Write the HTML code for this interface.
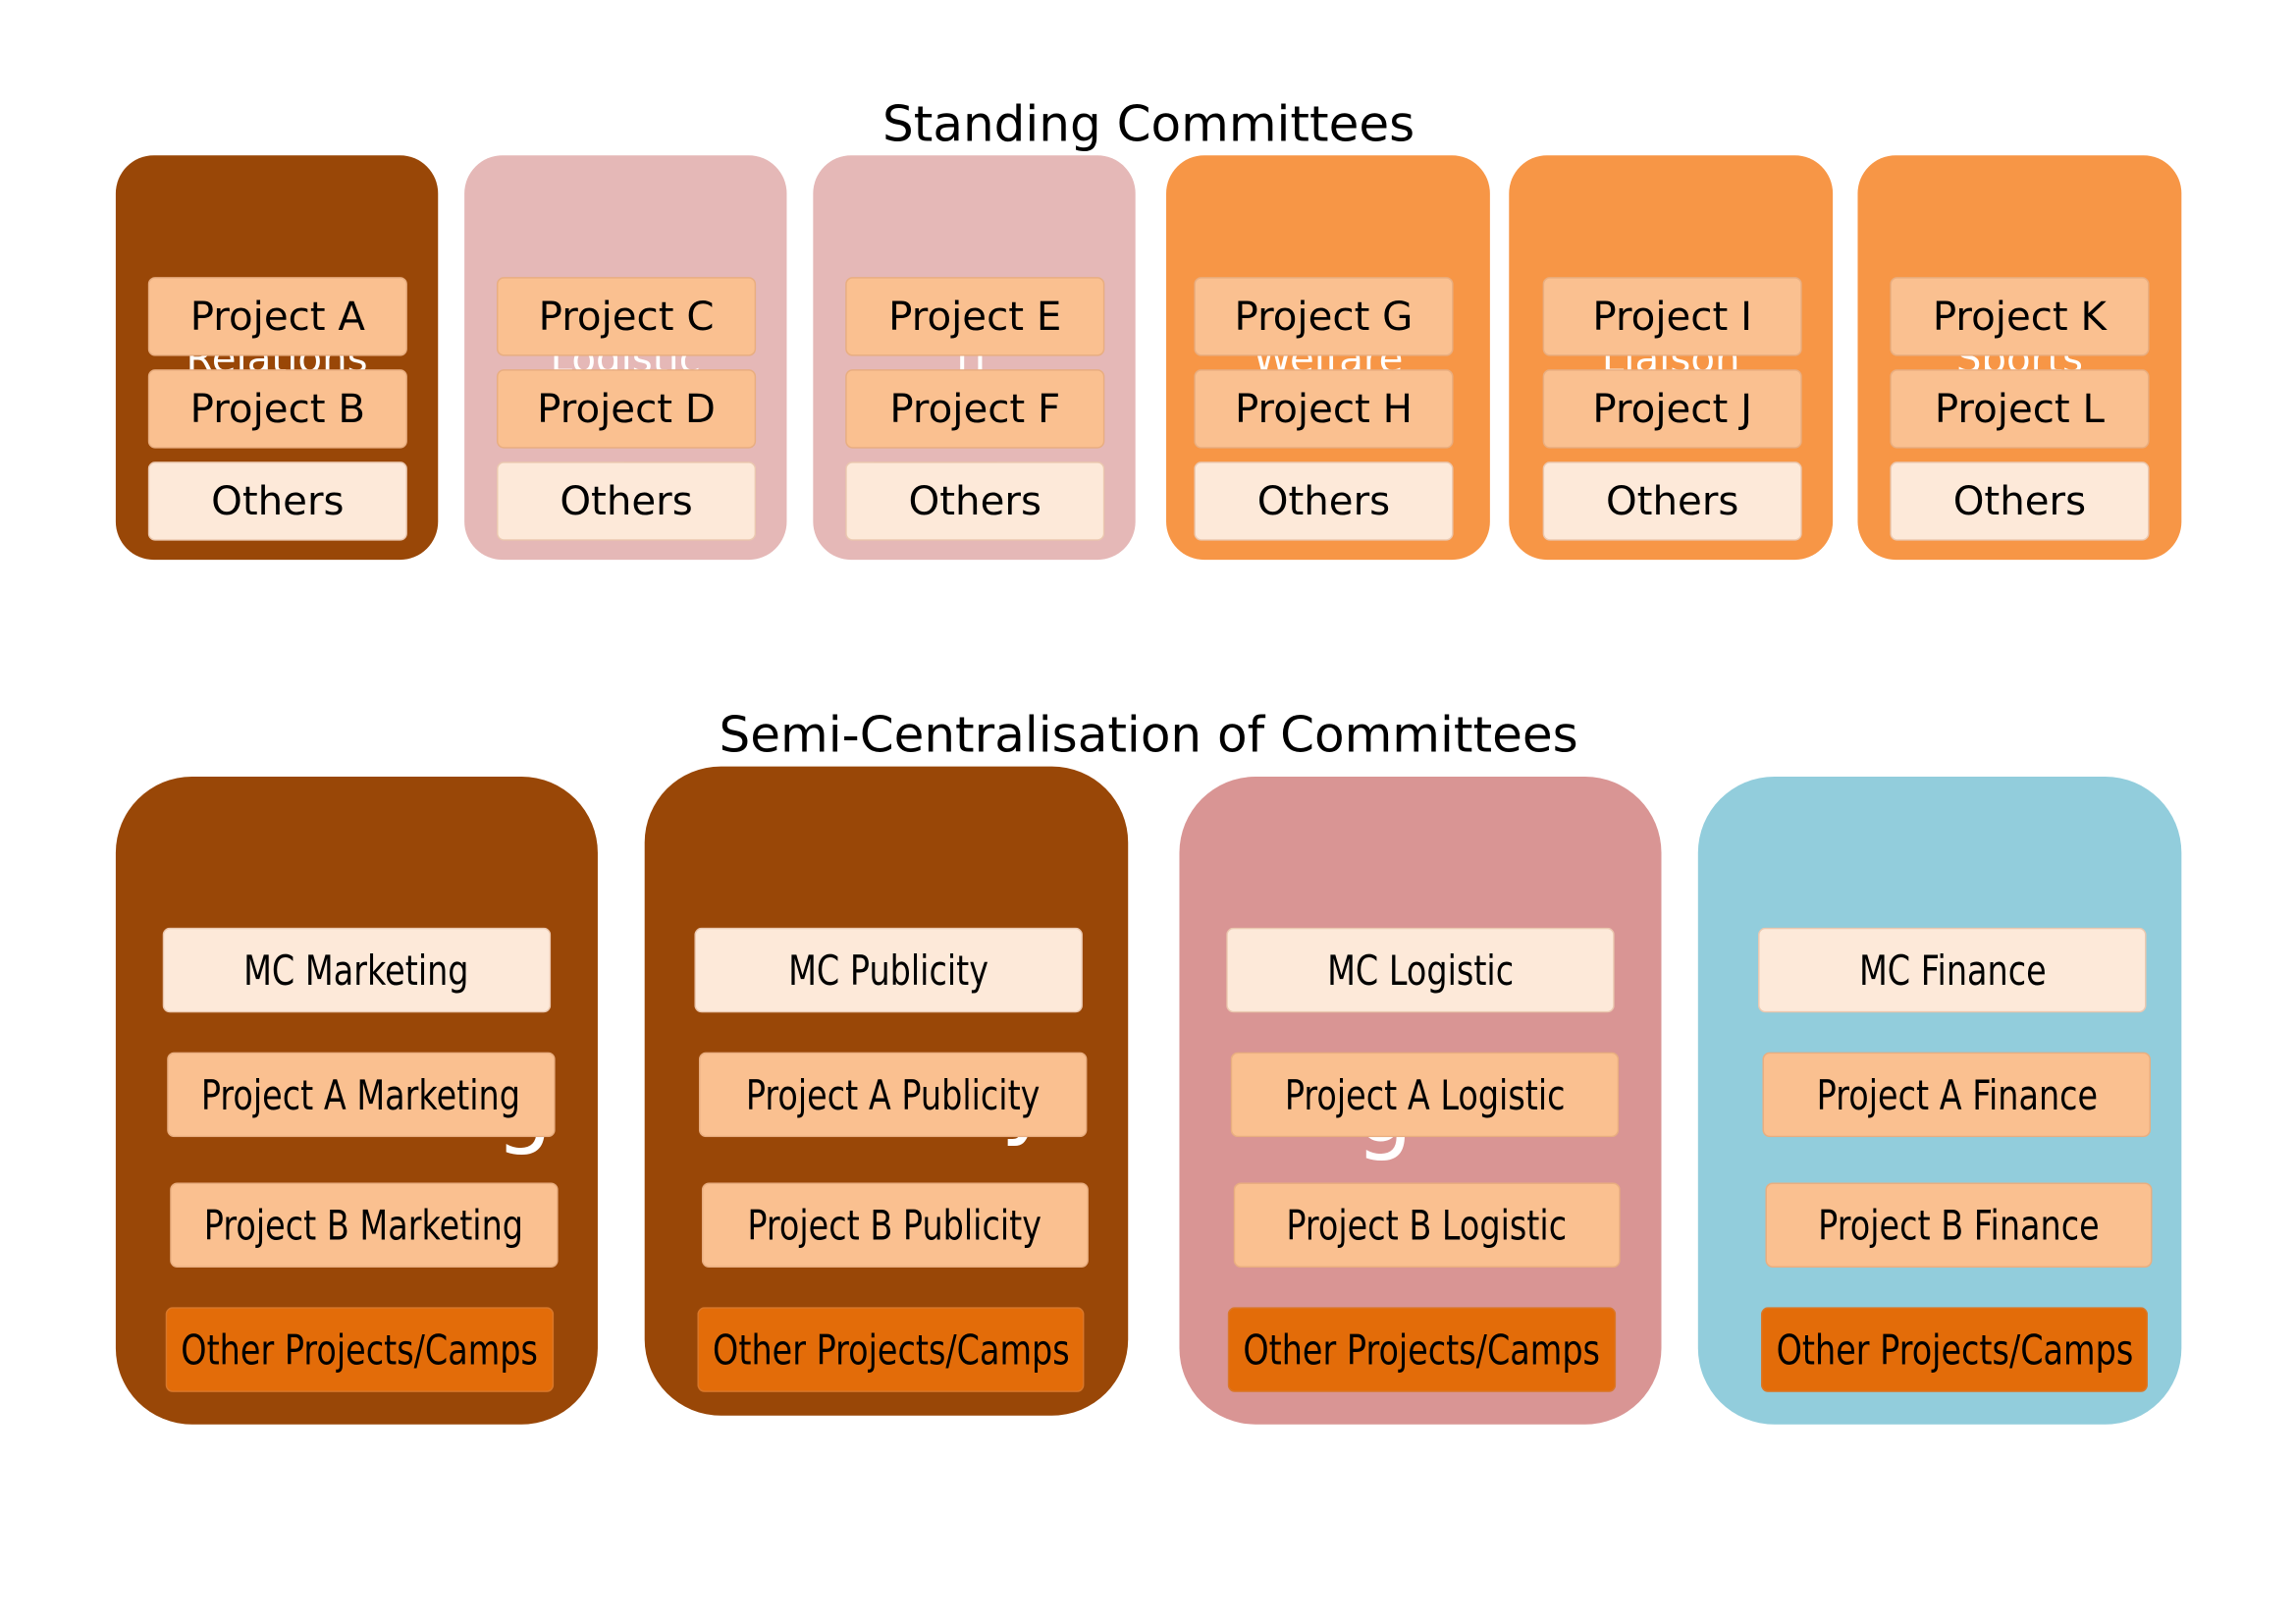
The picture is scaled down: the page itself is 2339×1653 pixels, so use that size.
<!DOCTYPE html>
<html><head><meta charset="utf-8"><style>
html,body{margin:0;padding:0;background:#fff;width:2339px;height:1653px;overflow:hidden}
#w{position:absolute;left:0;top:0;width:1560px;height:1103px;transform:scale(1.4925);transform-origin:0 0;font-family:"DejaVu Sans","Liberation Sans",sans-serif}
.p{position:absolute}
.b{position:absolute;display:flex;align-items:center;justify-content:center;color:#000;border-radius:5px;box-sizing:border-box;border:1px solid rgba(200,140,100,.35);white-space:nowrap}
.t{font-size:27px}
.c{font-size:28px}
.c span{display:inline-block;transform:scaleX(0.8)}
.h{position:absolute;color:#fff;text-align:center;white-space:nowrap}
.ti{position:absolute;font-size:33.5px;width:1560px;text-align:center;left:4px}
</style></head><body><div id="w">
<div class="ti" style="top:65px">Standing Committees</div>
<div class="ti" style="top:482px">Semi-Centralisation of Committees</div>

<div class="p" style="left:79px;top:106px;width:220px;height:276px;background:#994707;border-radius:26px"></div>
<div class="p" style="left:317px;top:106px;width:220px;height:276px;background:#e5b8b7;border-radius:26px"></div>
<div class="p" style="left:555px;top:106px;width:220px;height:276px;background:#e5b8b7;border-radius:26px"></div>
<div class="p" style="left:796px;top:106px;width:221px;height:276px;background:#f79646;border-radius:26px"></div>
<div class="p" style="left:1030px;top:106px;width:221px;height:276px;background:#f79646;border-radius:26px"></div>
<div class="p" style="left:1268px;top:106px;width:221px;height:276px;background:#f79646;border-radius:26px"></div>

<div class="h t" style="left:79px;width:220px;top:230px">Relations</div>
<div class="h t" style="left:317px;width:220px;top:230px">Logistic</div>
<div class="h t" style="left:555px;width:220px;top:230px">IT</div>
<div class="h t" style="left:796px;width:221px;top:230px">Welfare</div>
<div class="h t" style="left:1030px;width:221px;top:230px">Liaison</div>
<div class="h t" style="left:1268px;width:221px;top:230px">Sports</div>

<div class="b t" style="left:101px;top:189px;width:177px;height:54px;background:#fac090">Project A</div>
<div class="b t" style="left:101px;top:252px;width:177px;height:54px;background:#fac090">Project B</div>
<div class="b t" style="left:101px;top:315px;width:177px;height:54px;background:#fde9d9">Others</div>
<div class="b t" style="left:339px;top:189px;width:177px;height:54px;background:#fac090">Project C</div>
<div class="b t" style="left:339px;top:252px;width:177px;height:54px;background:#fac090">Project D</div>
<div class="b t" style="left:339px;top:315px;width:177px;height:54px;background:#fde9d9">Others</div>
<div class="b t" style="left:577px;top:189px;width:177px;height:54px;background:#fac090">Project E</div>
<div class="b t" style="left:577px;top:252px;width:177px;height:54px;background:#fac090">Project F</div>
<div class="b t" style="left:577px;top:315px;width:177px;height:54px;background:#fde9d9">Others</div>
<div class="b t" style="left:815px;top:189px;width:177px;height:54px;background:#fac090">Project G</div>
<div class="b t" style="left:815px;top:252px;width:177px;height:54px;background:#fac090">Project H</div>
<div class="b t" style="left:815px;top:315px;width:177px;height:54px;background:#fde9d9">Others</div>
<div class="b t" style="left:1053px;top:189px;width:177px;height:54px;background:#fac090">Project I</div>
<div class="b t" style="left:1053px;top:252px;width:177px;height:54px;background:#fac090">Project J</div>
<div class="b t" style="left:1053px;top:315px;width:177px;height:54px;background:#fde9d9">Others</div>
<div class="b t" style="left:1290px;top:189px;width:177px;height:54px;background:#fac090">Project K</div>
<div class="b t" style="left:1290px;top:252px;width:177px;height:54px;background:#fac090">Project L</div>
<div class="b t" style="left:1290px;top:315px;width:177px;height:54px;background:#fde9d9">Others</div>

<div class="p" style="left:79px;top:530px;width:329px;height:442px;background:#994707;border-radius:52px"></div>
<div class="p" style="left:440px;top:523px;width:330px;height:443px;background:#994707;border-radius:52px"></div>
<div class="p" style="left:805px;top:530px;width:329px;height:442px;background:#d99594;border-radius:52px"></div>
<div class="p" style="left:1159px;top:530px;width:330px;height:442px;background:#92cddc;border-radius:52px"></div>

<div class="h" style="left:338px;top:717px;font-size:62px">g</div>
<div class="h" style="left:683px;top:711px;font-size:62px">y</div>
<div class="h" style="left:925px;top:721px;font-size:62px">g</div>

<div class="b c" style="left:111px;top:633px;width:265px;height:58px;background:#fde9d9"><span>MC Marketing</span></div>
<div class="b c" style="left:114px;top:718px;width:265px;height:58px;background:#fac090"><span>Project A Marketing</span></div>
<div class="b c" style="left:116px;top:807px;width:265px;height:58px;background:#fac090"><span>Project B Marketing</span></div>
<div class="b c" style="left:113px;top:892px;width:265px;height:58px;background:#e36c09"><span>Other Projects/Camps</span></div>

<div class="b c" style="left:474px;top:633px;width:265px;height:58px;background:#fde9d9"><span>MC Publicity</span></div>
<div class="b c" style="left:477px;top:718px;width:265px;height:58px;background:#fac090"><span>Project A Publicity</span></div>
<div class="b c" style="left:479px;top:807px;width:264px;height:58px;background:#fac090"><span>Project B Publicity</span></div>
<div class="b c" style="left:476px;top:892px;width:264px;height:58px;background:#e36c09"><span>Other Projects/Camps</span></div>

<div class="b c" style="left:837px;top:633px;width:265px;height:58px;background:#fde9d9"><span>MC Logistic</span></div>
<div class="b c" style="left:840px;top:718px;width:265px;height:58px;background:#fac090"><span>Project A Logistic</span></div>
<div class="b c" style="left:842px;top:807px;width:264px;height:58px;background:#fac090"><span>Project B Logistic</span></div>
<div class="b c" style="left:838px;top:892px;width:265px;height:58px;background:#e36c09"><span>Other Projects/Camps</span></div>

<div class="b c" style="left:1200px;top:633px;width:265px;height:58px;background:#fde9d9"><span>MC Finance</span></div>
<div class="b c" style="left:1203px;top:718px;width:265px;height:58px;background:#fac090"><span>Project A Finance</span></div>
<div class="b c" style="left:1205px;top:807px;width:264px;height:58px;background:#fac090"><span>Project B Finance</span></div>
<div class="b c" style="left:1202px;top:892px;width:264px;height:58px;background:#e36c09"><span>Other Projects/Camps</span></div>
</div></body></html>
